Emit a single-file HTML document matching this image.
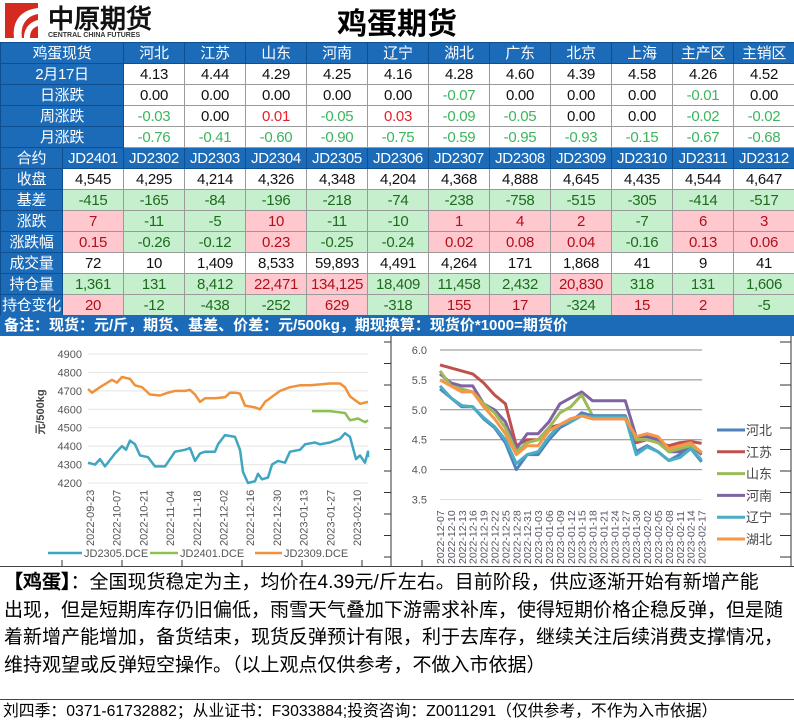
<!DOCTYPE html>
<html><head><meta charset="utf-8">
<style>
*{margin:0;padding:0;box-sizing:border-box}
body{width:794px;height:724px;background:#fff;position:relative;overflow:hidden;font-family:"Liberation Sans","Noto Sans CJK SC",sans-serif}
#hdr{position:absolute;left:0;top:0;width:794px;height:42px;background:#fff}
table{position:absolute;left:0;top:42px;border-collapse:collapse;table-layout:fixed;width:794px}
td{height:21px;border:1px solid #9a9a9a;text-align:center;font-size:15px;line-height:19px;white-space:nowrap;overflow:hidden;color:#111;letter-spacing:-0.3px}
td.h{background:#1b6bb8;color:#fff;border-color:#0f4f90}
.g{background:#c6efce;color:#1e6b1e}
.r{background:#ffc7ce;color:#b0101c}
.lg{color:#3cb55e}
.lr{color:#e8202a}
#note{position:absolute;left:0;top:315px;width:794px;height:21px;background:#1b6bb8;color:#fff;font-size:15px;line-height:21px;padding-left:4px;font-weight:bold}
#txt{position:absolute;left:0;top:566px;width:794px;height:134px;border-top:1px solid #444;border-bottom:1px solid #444;font-size:19px;line-height:27.5px;padding:2px 4px;color:#000;white-space:nowrap;overflow:hidden;font-family:"Liberation Sans","WenQuanYi Zen Hei",sans-serif}
#foot{position:absolute;left:0;top:702px;font-size:15.8px;line-height:20px;padding-left:3px;color:#000;white-space:nowrap;font-family:"Liberation Sans","WenQuanYi Zen Hei",sans-serif}
</style></head><body>
<div id="hdr">
<svg width="160" height="42" style="position:absolute;left:0;top:0">
<rect x="5" y="3" width="33" height="35" fill="#d42a1f"/>
<path d="M14 38 C12 22 20 10 38 8 L38 14 C26 16 20 26 22 38Z" fill="#fff"/>
<path d="M24 38 C24 28 30 22 38 20 L38 26 C32 28 30 32 30 38Z" fill="#fff"/>
<text x="48" y="28" font-size="26" font-weight="bold" font-family="WenQuanYi Zen Hei,sans-serif" fill="#111">中原期货</text>
<text x="48" y="37" font-size="7" font-weight="bold" fill="#333">CENTRAL CHINA FUTURES</text>
</svg>
<div style="position:absolute;left:0;width:794px;top:2px;text-align:center;font-size:30px;font-weight:bold;line-height:38px;font-family:'Noto Sans CJK SC',sans-serif">鸡蛋期货</div>
</div>
<table>
<colgroup><col style="width:62px"><col style="width:61px"><col span="11" style="width:61px"></colgroup>
<tr><td class="h" colspan="2">鸡蛋现货</td><td class="h">河北</td><td class="h">江苏</td><td class="h">山东</td><td class="h">河南</td><td class="h">辽宁</td><td class="h">湖北</td><td class="h">广东</td><td class="h">北京</td><td class="h">上海</td><td class="h">主产区</td><td class="h">主销区</td></tr>
<tr><td class="h" colspan="2">2月17日</td><td>4.13</td><td>4.44</td><td>4.29</td><td>4.25</td><td>4.16</td><td>4.28</td><td>4.60</td><td>4.39</td><td>4.58</td><td>4.26</td><td>4.52</td></tr>
<tr><td class="h" colspan="2">日涨跌</td><td>0.00</td><td>0.00</td><td>0.00</td><td>0.00</td><td>0.00</td><td class="lg">-0.07</td><td>0.00</td><td>0.00</td><td>0.00</td><td class="lg">-0.01</td><td>0.00</td></tr>
<tr><td class="h" colspan="2">周涨跌</td><td class="lg">-0.03</td><td>0.00</td><td class="lr">0.01</td><td class="lg">-0.05</td><td class="lr">0.03</td><td class="lg">-0.09</td><td class="lg">-0.05</td><td>0.00</td><td>0.00</td><td class="lg">-0.02</td><td class="lg">-0.02</td></tr>
<tr><td class="h" colspan="2">月涨跌</td><td class="lg">-0.76</td><td class="lg">-0.41</td><td class="lg">-0.60</td><td class="lg">-0.90</td><td class="lg">-0.75</td><td class="lg">-0.59</td><td class="lg">-0.95</td><td class="lg">-0.93</td><td class="lg">-0.15</td><td class="lg">-0.67</td><td class="lg">-0.68</td></tr>
<tr><td class="h">合约</td><td class="h">JD2401</td><td class="h">JD2302</td><td class="h">JD2303</td><td class="h">JD2304</td><td class="h">JD2305</td><td class="h">JD2306</td><td class="h">JD2307</td><td class="h">JD2308</td><td class="h">JD2309</td><td class="h">JD2310</td><td class="h">JD2311</td><td class="h">JD2312</td></tr>
<tr><td class="h">收盘</td><td>4,545</td><td>4,295</td><td>4,214</td><td>4,326</td><td>4,348</td><td>4,204</td><td>4,368</td><td>4,888</td><td>4,645</td><td>4,435</td><td>4,544</td><td>4,647</td></tr>
<tr><td class="h">基差</td><td class="g">-415</td><td class="g">-165</td><td class="g">-84</td><td class="g">-196</td><td class="g">-218</td><td class="g">-74</td><td class="g">-238</td><td class="g">-758</td><td class="g">-515</td><td class="g">-305</td><td class="g">-414</td><td class="g">-517</td></tr>
<tr><td class="h">涨跌</td><td class="r">7</td><td class="g">-11</td><td class="g">-5</td><td class="r">10</td><td class="g">-11</td><td class="g">-10</td><td class="r">1</td><td class="r">4</td><td class="r">2</td><td class="g">-7</td><td class="r">6</td><td class="r">3</td></tr>
<tr><td class="h">涨跌幅</td><td class="r">0.15</td><td class="g">-0.26</td><td class="g">-0.12</td><td class="r">0.23</td><td class="g">-0.25</td><td class="g">-0.24</td><td class="r">0.02</td><td class="r">0.08</td><td class="r">0.04</td><td class="g">-0.16</td><td class="r">0.13</td><td class="r">0.06</td></tr>
<tr><td class="h">成交量</td><td>72</td><td>10</td><td>1,409</td><td>8,533</td><td>59,893</td><td>4,491</td><td>4,264</td><td>171</td><td>1,868</td><td>41</td><td>9</td><td>41</td></tr>
<tr><td class="h">持仓量</td><td class="g">1,361</td><td class="g">131</td><td class="g">8,412</td><td class="r">22,471</td><td class="r">134,125</td><td class="g">18,409</td><td class="g">11,458</td><td class="g">2,432</td><td class="r">20,830</td><td class="g">318</td><td class="g">131</td><td class="g">1,606</td></tr>
<tr><td class="h">持仓变化</td><td class="r">20</td><td class="g">-12</td><td class="g">-438</td><td class="g">-252</td><td class="r">629</td><td class="g">-318</td><td class="r">155</td><td class="r">17</td><td class="g">-324</td><td class="r">15</td><td class="r">2</td><td class="g">-5</td></tr>
</table>
<div id="note">备注：现货：元/斤，期货、基差、价差：元/500kg，期现换算：现货价*1000=期货价</div>

<svg id="ch" width="794" height="230" style="position:absolute;left:0;top:336px" font-family="Liberation Sans, Noto Sans CJK SC, sans-serif"></svg>

<div id="txt"><b>【鸡蛋】</b>：全国现货稳定为主，均价在4.39元/斤左右。目前阶段，供应逐渐开始有新增产能<br>出现，但是短期库存仍旧偏低，雨雪天气叠加下游需求补库，使得短期价格企稳反弹，但是随<br>着新增产能增加，备货结束，现货反弹预计有限，利于去库存，继续关注后续消费支撑情况，<br>维持观望或反弹短空操作。（以上观点仅供参考，不做入市依据）</div>
<div id="foot">刘四季：0371-61732882；从业证书：F3033884;投资咨询：Z0011291（仅供参考，不作为入市依据）</div>

<script>
var s='',O=336;
function Y(v){return 354+(4900-v)*0.1843-O}
for(var v=4200;v<=4900;v+=100){var y=Y(v);s+='<line x1="88" x2="368" y1="'+y+'" y2="'+y+'" stroke="#e4e4e4"/>';s+='<text x="82" y="'+(y+4)+'" font-size="11" fill="#555" text-anchor="end">'+v+'</text>'}
var dl=['2022-09-23','2022-10-07','2022-10-21','2022-11-04','2022-11-18','2022-12-02','2022-12-16','2022-12-30','2023-01-13','2023-01-27','2023-02-10'];
dl.forEach(function(d,i){var x=90+i*26.7+4;s+='<text transform="translate('+x+',210) rotate(-90)" font-size="11" fill="#555">'+d+'</text>'});
s+='<text transform="translate(44,76) rotate(-90)" font-size="11" fill="#444" text-anchor="middle" font-weight="bold">元/500kg</text>';
function pl(a,c,w){var p=[];for(var i=0;i<a.length;i+=2)p.push(a[i]+','+Y(a[i+1]).toFixed(1));return '<polyline points="'+p.join(' ')+'" fill="none" stroke="'+c+'" stroke-width="'+w+'" stroke-linejoin="round"/>'}
s+=pl([88,4710,92,4690,100,4720,112,4760,117,4745,122,4775,130,4765,135,4730,142,4720,150,4680,160,4675,168,4690,175,4700,185,4700,190,4705,195,4680,200,4640,205,4660,215,4660,225,4665,230,4690,235,4690,240,4685,245,4620,255,4610,260,4600,265,4640,270,4660,280,4700,290,4720,300,4730,310,4730,320,4735,330,4740,340,4740,345,4720,350,4670,355,4650,360,4630,368,4640],'#f0913c',2.5);
s+=pl([88,4310,95,4300,100,4330,105,4290,115,4360,122,4400,126,4380,130,4430,135,4410,140,4350,148,4340,155,4290,165,4290,170,4330,175,4370,185,4380,190,4390,195,4320,200,4360,205,4370,215,4370,218,4410,225,4460,235,4450,240,4380,243,4260,248,4200,255,4210,258,4250,262,4220,268,4230,272,4300,278,4320,285,4310,290,4370,300,4380,305,4410,315,4420,320,4410,330,4420,340,4440,345,4470,350,4450,356,4330,360,4350,365,4310,368,4370,368,4340],'#3ea6c0',2.5);
s+=pl([312,4590,330,4590,345,4580,350,4540,358,4550,365,4530,368,4540],'#8cc152',2.5);
s+='<line x1="48" x2="82" y1="217" y2="217" stroke="#3ea6c0" stroke-width="2.5"/><text x="84" y="221" font-size="11" fill="#555">JD2305.DCE</text>';
s+='<line x1="150" x2="178" y1="217" y2="217" stroke="#8cc152" stroke-width="2.5"/><text x="180" y="221" font-size="11" fill="#555">JD2401.DCE</text>';
s+='<line x1="255" x2="282" y1="217" y2="217" stroke="#f0913c" stroke-width="2.5"/><text x="284" y="221" font-size="11" fill="#555">JD2309.DCE</text>';
s+='<line x1="391" x2="391" y1="0" y2="230" stroke="#333"/><line x1="791" x2="791" y1="0" y2="230" stroke="#333"/>';
for(var t=0;t<11;t++){var ty=6+t*21.5;s+='<line x1="384" x2="391" y1="'+ty+'" y2="'+ty+'" stroke="#333"/><line x1="780" x2="791" y1="'+ty+'" y2="'+ty+'" stroke="#333"/>'}
for(var k=0;k<7;k++){var tx=62+k*60;s+='<line x1="'+tx+'" x2="'+tx+'" y1="224" y2="230" stroke="#333"/>'}
function RY(v){return 350+(6-v)*59.8-O}
for(var v=3.5;v<=6.01;v+=0.5){var y=RY(v);s+='<line x1="440" x2="702" y1="'+y+'" y2="'+y+'" stroke="'+(v<3.6?'#dde':'#888')+'"/>';s+='<text x="427" y="'+(y+4)+'" font-size="11" fill="#555" text-anchor="end">'+v.toFixed(1)+'</text>'}
var rd=['12-07','12-10','12-13','12-16','12-19','12-22','12-25','12-28','12-31','01-03','01-06','01-09','01-12','01-15','01-18','01-21','01-24','01-27','01-30','02-02','02-05','02-08','02-11','02-14','02-17'];
rd.forEach(function(d,i){var x=440+i*10.9+4;var yr=i<9?'2022-':'2023-';s+='<text transform="translate('+x+',228) rotate(-90)" font-size="10.5" fill="#556">'+yr+d+'</text>'});
function rl(a,c){var p=a.map(function(v,i){return (440+i*10.9).toFixed(1)+','+RY(v).toFixed(1)});return '<polyline points="'+p.join(' ')+'" fill="none" stroke="'+c+'" stroke-width="3" stroke-linejoin="round"/>'}
var S=[
['江苏','#c0504d',[5.75,5.7,5.65,5.6,5.45,5.25,5.1,4.4,4.5,4.5,4.7,4.75,4.85,4.9,4.85,4.85,4.85,4.85,4.45,4.5,4.45,4.4,4.45,4.47,4.44]],
['河南','#8064a2',[5.6,5.45,5.4,5.4,5.1,5.0,4.8,4.35,4.6,4.6,4.8,5.1,5.2,5.3,5.15,5.15,5.15,5.15,4.55,4.55,4.5,4.3,4.3,4.4,4.25]],
['山东','#9bbb59',[5.65,5.4,5.35,5.3,5.1,4.95,4.7,4.3,4.45,4.5,4.7,4.95,5.05,5.25,4.9,4.9,4.9,4.9,4.5,4.5,4.45,4.3,4.35,4.4,4.29]],
['河北','#4f81bd',[5.35,5.2,5.05,5.05,4.85,4.7,4.45,4.0,4.25,4.25,4.5,4.7,4.8,4.95,4.9,4.9,4.9,4.9,4.3,4.4,4.3,4.15,4.25,4.35,4.13]],
['辽宁','#4bacc6',[5.4,5.2,5.07,5.05,4.87,4.72,4.5,4.1,4.25,4.3,4.55,4.75,4.8,4.9,4.88,4.88,4.88,4.88,4.25,4.38,4.3,4.15,4.2,4.35,4.16]],
['湖北','#f79646',[5.5,5.4,5.3,5.3,5.05,4.85,4.6,4.25,4.4,4.4,4.65,4.75,4.85,4.9,4.85,4.85,4.85,4.85,4.55,4.6,4.55,4.35,4.4,4.45,4.28]]];
S.forEach(function(q){s+=rl(q[2],q[1])});
var L=[['河北','#4f81bd'],['江苏','#c0504d'],['山东','#9bbb59'],['河南','#8064a2'],['辽宁','#4bacc6'],['湖北','#f79646']];
L.forEach(function(q,i){var y=430+i*21.8-O;s+='<line x1="717" x2="745" y1="'+y+'" y2="'+y+'" stroke="'+q[1]+'" stroke-width="3"/><text x="746" y="'+(y+5)+'" font-size="13" fill="#444">'+q[0]+'</text>'});
document.getElementById('ch').innerHTML=s;
</script>
</body></html>
